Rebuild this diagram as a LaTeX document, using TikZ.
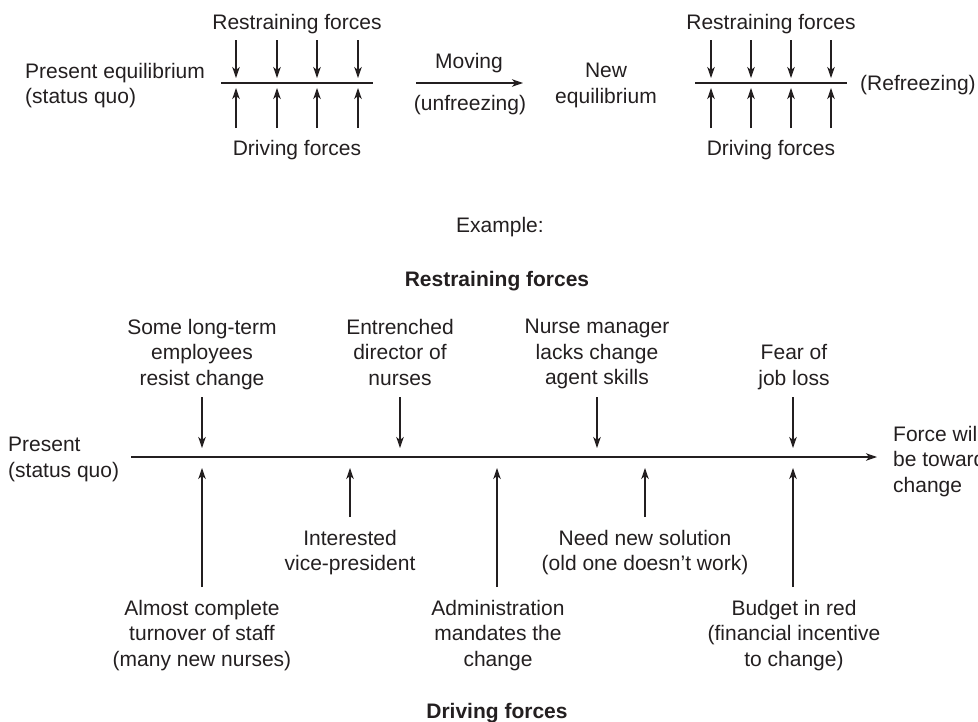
\documentclass[tikz,border=0pt]{standalone}
\usepackage{fontspec}
\setmainfont{Liberation Sans}
\usetikzlibrary{arrows.meta}
\definecolor{ink}{HTML}{231F20}
\begin{document}
\begin{tikzpicture}[x=1pt,y=-1pt,
  arr/.style={-{Stealth[length=11pt,width=7.5pt,inset=3pt]}, line width=1.1pt, draw=ink},
  plain/.style={line width=1.1pt, draw=ink},
  lbl/.style={inner sep=0pt, font=\fontsize{21}{25.5}\selectfont, text=ink, align=center},
  lbll/.style={lbl, align=left},
  bold/.style={inner sep=0pt, font=\fontsize{21}{25.5}\selectfont\bfseries, text=ink}
]
\useasboundingbox (0,0) rectangle (978,721);

% ---------- top: Lewin's model ----------
\node[lbll, anchor=north west] (pres) at (25,63) {Present equilibrium\\(status quo)};
\node[lbl, anchor=base] (rfL) at (297,29) {Restraining forces};
\node[lbl, anchor=base] (dfL) at (297,155) {Driving forces};
\coordinate (lLa) at (221,83); \coordinate (lLb) at (373,83);
\draw[plain] (lLa) -- (lLb);
\foreach \i/\x in {1/236,2/277,3/317,4/358}{
  \coordinate (ldt\i) at (\x,40); \coordinate (ldh\i) at (\x,78);
  \coordinate (lut\i) at (\x,128); \coordinate (luh\i) at (\x,88);
  \draw[arr] (ldt\i) -- (ldh\i);
  \draw[arr] (lut\i) -- (luh\i);
}
\node[lbl, anchor=base] (mov) at (469,68) {Moving};
\node[lbl, anchor=base] (unf) at (470,110) {(unfreezing)};
\coordinate (mA) at (416,83); \coordinate (mB) at (523,83);
\draw[arr] (mA) -- (mB);
\node[lbl, anchor=north] (neweq) at (606,63) {New\\equilibrium};

\node[lbl, anchor=base] (rfR) at (771,29) {Restraining forces};
\node[lbl, anchor=base] (dfR) at (771,155) {Driving forces};
\coordinate (rLa) at (695,83); \coordinate (rLb) at (847,83);
\draw[plain] (rLa) -- (rLb);
\foreach \i/\x in {1/711,2/751,3/791,4/831}{
  \coordinate (rdt\i) at (\x,40); \coordinate (rdh\i) at (\x,78);
  \coordinate (rut\i) at (\x,128); \coordinate (ruh\i) at (\x,88);
  \draw[arr] (rdt\i) -- (rdh\i);
  \draw[arr] (rut\i) -- (ruh\i);
}
\node[lbl, anchor=base west] (refr) at (860,90) {(Refreezing)};

% ---------- example ----------
\node[lbl, anchor=base] (ex) at (500,232) {Example:};
\node[bold, anchor=base] (rfb) at (497,286) {Restraining forces};
\node[bold, anchor=base] (dfb) at (497,718) {Driving forces};

\node[lbll, anchor=north west] (pres2) at (8,437) {Present\\(status quo)};
\node[lbll, anchor=north west] (force) at (893,426) {Force will\\be toward\\change};

\coordinate (mainL) at (131,457); \coordinate (mainR) at (877,457);
\draw[arr] (mainL) -- (mainR);

% restraining
\node[lbl, anchor=north] (r1) at (202,319) {Some long-term\\employees\\resist change};
\node[lbl, anchor=north] (r2) at (400,319) {Entrenched\\director of\\nurses};
\node[lbl, anchor=north] (r3) at (597,319) {Nurse manager\\lacks change\\agent skills};
\node[lbl, anchor=north] (r4) at (794,344.5) {Fear of\\job loss};
\foreach \i/\x in {1/202,2/400,3/597,4/793}{
  \coordinate (rs\i) at (\x,397); \coordinate (re\i) at (\x,448);
  \draw[arr] (rs\i) -- (re\i);
}

% driving
\node[lbl, anchor=north] (d1) at (202,600) {Almost complete\\turnover of staff\\(many new nurses)};
\node[lbl, anchor=north] (d2) at (350,530) {Interested\\vice-president};
\node[lbl, anchor=north] (d3) at (498,600) {Administration\\mandates the\\change};
\node[lbl, anchor=north] (d4) at (645,530) {Need new solution\\(old one doesn’t work)};
\node[lbl, anchor=north] (d5) at (794,600) {Budget in red\\(financial incentive\\to change)};
\foreach \i/\x/\y in {1/202/587,2/350/517,3/497/587,4/645/517,5/793/587}{
  \coordinate (ds\i) at (\x,\y); \coordinate (de\i) at (\x,468);
  \draw[arr] (ds\i) -- (de\i);
}
\end{tikzpicture}
\end{document}
